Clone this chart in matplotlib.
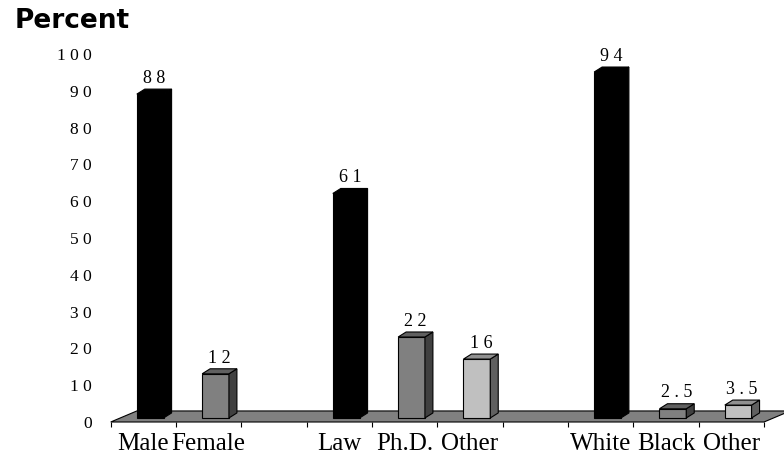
import matplotlib.pyplot as plt
from matplotlib.patches import Polygon

# survey breakdown: gender | degree | race (blank slots separate the groups)
categories = ['Male', 'Female', '', 'Law', 'Ph.D.', 'Other', '', 'White', 'Black', 'Other']
percent = [88, 12, None, 61, 22, 16, None, 94, 2.5, 3.5]
series = [0, 1, None, 0, 1, 2, None, 0, 1, 2]
yticks = [0, 10, 20, 30, 40, 50, 60, 70, 80, 90, 100]

# front / side / top face colours per series
FACES = {
    0: ('#000000', '#000000', '#000000'),
    1: ('#808080', '#404040', '#606060'),
    2: ('#c0c0c0', '#606060', '#909090'),
}
SERIF = ['Liberation Serif', 'DejaVu Serif']
SP = ' '  # letter spacing used in the numbers

fig = plt.figure(figsize=(7.84, 4.62), dpi=100)
ax = fig.add_axes([110.7 / 784, 40 / 462, 653.3 / 784, 368 / 462])
ax.set_xlim(0, len(categories))
ax.set_ylim(0, 100)
for s in ax.spines.values():
    s.set_visible(False)

# floor
fdx, fdy = 0.40, 3.0
n = len(categories)
floor = Polygon([(0, 0), (n, 0), (n + fdx, fdy), (fdx, fdy)], closed=True,
                facecolor='#808080', edgecolor='black', lw=0.8, clip_on=False, zorder=1)
ax.add_patch(floor)

# bars with a shallow 3-D look
bw, ddx, ddy = 0.41, 0.122, 1.36
x_off, base = 0.40, 1.1
for i, (v, s) in enumerate(zip(percent, series)):
    if v is None:
        continue
    front, side, top = FACES[s]
    x0 = i + x_off
    x1 = x0 + bw
    y0 = base
    y1 = base + v
    faces = [
        ([(x0, y0), (x1, y0), (x1, y1), (x0, y1)], front),
        ([(x1, y0), (x1 + ddx, y0 + ddy), (x1 + ddx, y1 + ddy), (x1, y1)], side),
        ([(x0, y1), (x1, y1), (x1 + ddx, y1 + ddy), (x0 + ddx, y1 + ddy)], top),
    ]
    for pts, c in faces:
        ax.add_patch(Polygon(pts, closed=True, facecolor=c, edgecolor='black', lw=0.8,
                             clip_on=False, zorder=3))
    label = SP.join(f'{v:g}')
    ax.annotate(label, (x0 + bw / 2 + ddx / 2, y1 + ddy), xytext=(0, 4.5),
                textcoords='offset points', ha='center', va='baseline',
                fontsize=13, family=SERIF, zorder=4)

# axes ticks
ax.set_yticks(yticks)
ax.set_yticklabels([SP.join(str(t)) for t in yticks], family=SERIF, fontsize=12.5)
ax.tick_params(axis='y', length=0, pad=13.5)

ax.set_xticks(range(n + 1))
ax.set_xticklabels([])
ax.tick_params(axis='x', which='major', direction='out', length=3.6, width=0.8)
ax.set_xticks([i + 0.5 for i in range(n)], minor=True)
ax.set_xticklabels(categories, minor=True, family=SERIF, fontsize=18)
ax.tick_params(axis='x', which='minor', length=0, pad=8)

fig.text(15 / 784, (462 - 28) / 462, 'Percent', fontsize=19, fontweight='bold',
         family='DejaVu Sans', va='baseline', ha='left')

fig.savefig('out.png', dpi=100)
